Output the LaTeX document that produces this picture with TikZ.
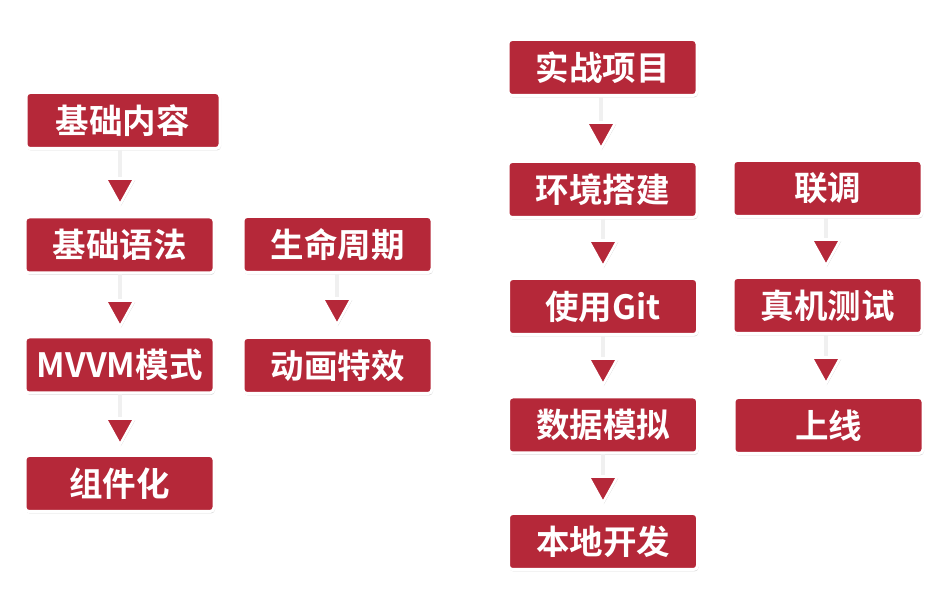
\documentclass[tikz,border=0pt]{standalone}
\usepackage{fontspec}
\setmainfont{Noto Sans CJK SC Bold}
\usetikzlibrary{shapes.geometric,shadows}
\definecolor{boxred}{RGB}{181,40,57}
\begin{document}
\begin{tikzpicture}[x=1pt,y=-1pt,
  stepbox/.style={draw=white, line width=3pt, fill=boxred, rounded corners=4pt,
    minimum width=189pt, minimum height=56pt, inner sep=0pt, text=white,
    font=\fontsize{33.5}{33.5}\selectfont,
    drop shadow={shadow xshift=1pt, shadow yshift=-2pt, opacity=0.22, fill=black!60}},
  tri/.style={isosceles triangle, shape border rotate=-90, isosceles triangle apex angle=58,
    draw=white, line width=2.5pt, fill=boxred, minimum height=26pt, inner sep=0pt,
    drop shadow={shadow xshift=0.8pt, shadow yshift=-1.5pt, opacity=0.2, fill=black!60}},
  stem/.style={draw=black!6, line width=3.5pt}
]
\useasboundingbox (0,0) rectangle (946,601);
\fill[white] (0,0) rectangle (946,601);

\node[stepbox, minimum width=194pt] (a1) at (123,120.5) {基础内容};
\node[stepbox] (a2) at (119.5,245) {基础语法};
\node[stepbox] (a3) at (119.5,365) {MVVM模式};
\node[stepbox] (a4) at (119.5,483.5) {组件化};

\node[stepbox] (b1) at (337.5,244.5) {生命周期};
\node[stepbox] (b2) at (337.5,365.5) {动画特效};

\node[stepbox] (c1) at (602.5,67.5) {实战项目};
\node[stepbox] (c2) at (602.5,189.5) {环境搭建};
\node[stepbox] (c3) at (603,306.5) {使用Git};
\node[stepbox] (c4) at (603,425) {数据模拟};
\node[stepbox] (c5) at (603,541.5) {本地开发};

\node[stepbox] (d1) at (827.5,188.5) {联调};
\node[stepbox] (d2) at (827.5,305.5) {真机测试};
\node[stepbox] (d3) at (828.5,425.5) {上线};

\foreach \u/\v/\x/\y in {a1/a2/120/187, a2/a3/120/309, a3/a4/120/427,
  b1/b2/337/307, c1/c2/601/131, c2/c3/603/249, c3/c4/603/367, c4/c5/603/485,
  d1/d2/826/248, d2/d3/826/366}{
  \node[tri] (t\u) at (\x,\y) {};
  \path[stem] (t\u.apex |- \u.south) -- (t\u.north);
  \node[tri] at (t\u) {};
}
\end{tikzpicture}
\end{document}
